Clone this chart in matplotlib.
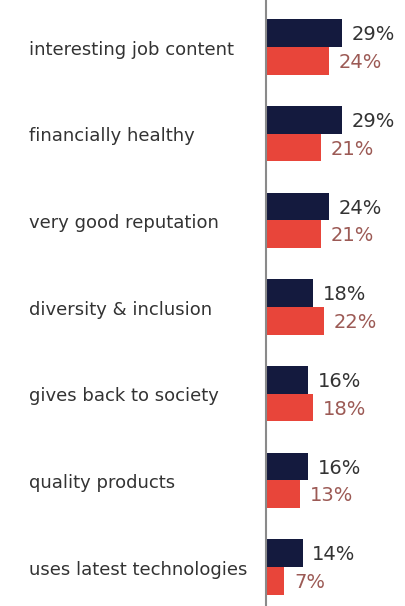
import matplotlib
matplotlib.use("Agg")
import matplotlib.pyplot as plt
from matplotlib.transforms import blended_transform_factory
import numpy as np

categories = [
    "interesting job content",
    "financially healthy",
    "very good reputation",
    "diversity & inclusion",
    "gives back to society",
    "quality products",
    "uses latest technologies",
]
series_a = [29, 29, 24, 18, 16, 16, 14]
series_b = [24, 21, 21, 22, 18, 13, 7]

navy = "#141a3e"
red = "#e8453a"
label_a_color = "#333333"
label_b_color = "#9c5a55"

plt.rcParams["font.family"] = ["DejaVu Sans"]

fig = plt.figure(figsize=(4.06, 6.06), dpi=100)
ax = fig.add_axes([0.655, 0.0, 0.345, 1.0])

y = np.arange(len(categories))
h = 0.32
ax.barh(y - h / 2, series_a, height=h, color=navy)
ax.barh(y + h / 2, series_b, height=h, color=red)

for yi, a, b in zip(y, series_a, series_b):
    ax.annotate(f"{a}%", (a, yi - h / 2 + 0.02), xytext=(7, 0),
                textcoords="offset points", va="center", ha="left",
                fontsize=14, color=label_a_color)
    ax.annotate(f"{b}%", (b, yi + h / 2 + 0.02), xytext=(7, 0),
                textcoords="offset points", va="center", ha="left",
                fontsize=14, color=label_b_color)

# category names, left-aligned in the left margin
trans = blended_transform_factory(fig.transFigure, ax.transData)
for yi, name in zip(y, categories):
    ax.text(29 / 406, yi + 0.03, name, transform=trans, ha="left", va="center",
            fontsize=13, color="#333333")

ax.set_xlim(0, 53.5)
ax.set_ylim(6.45, -0.542)
ax.set_yticks([])
ax.set_xticks([])
for s in ["top", "right", "bottom"]:
    ax.spines[s].set_visible(False)
ax.spines["left"].set_color("#8a8a8a")
ax.spines["left"].set_linewidth(1.5)

fig.savefig("out.png", dpi=100)
